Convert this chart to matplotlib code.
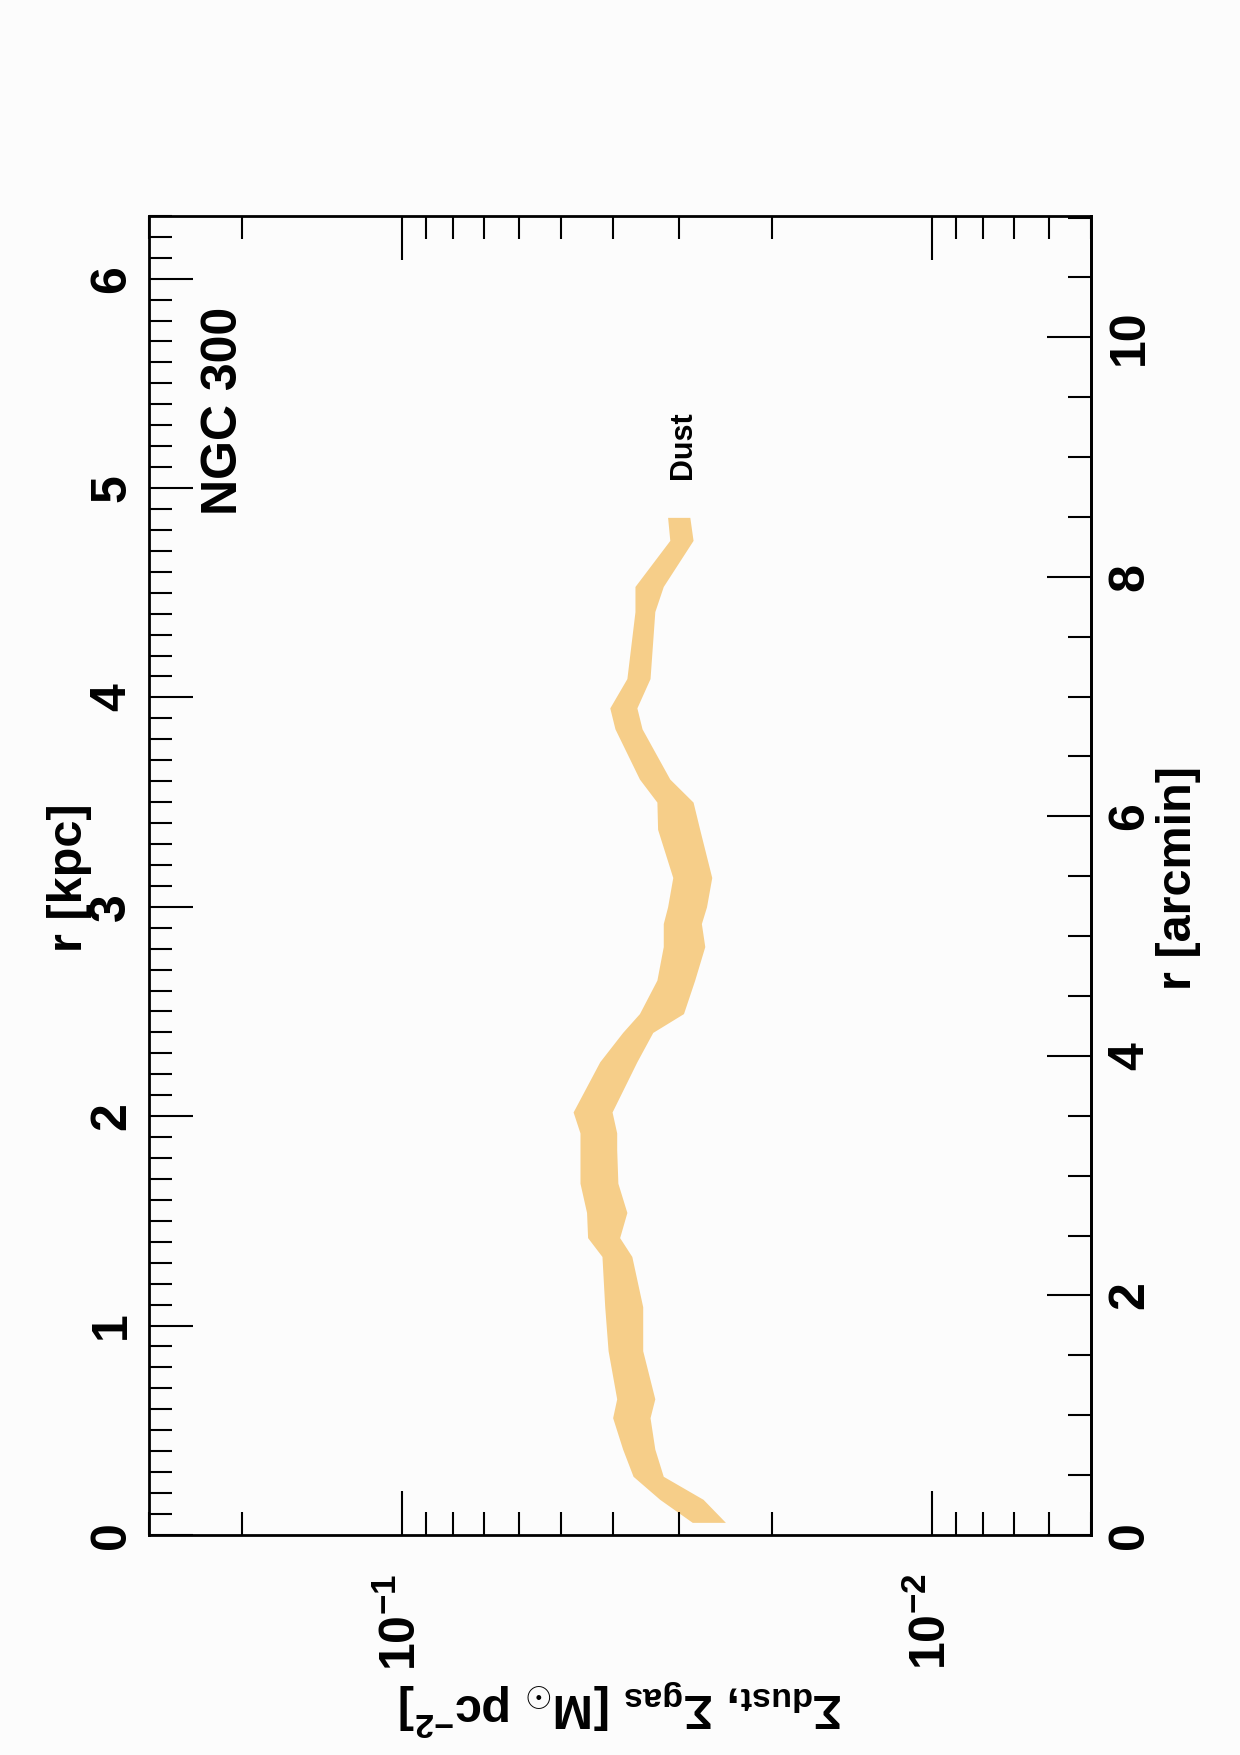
import matplotlib
matplotlib.use("Agg")
import matplotlib.pyplot as plt
import numpy as np
from matplotlib.ticker import LogLocator, MultipleLocator, NullFormatter

# radial profile of the dust surface density band (NGC 300)
R_KPC = [0.06, 0.17, 0.28, 0.41, 0.56, 0.65, 0.88, 1.09, 1.33, 1.42, 1.54,
         1.68, 1.84, 1.92, 2.02, 2.26, 2.40, 2.49, 2.65, 2.81, 2.92, 3.00,
         3.14, 3.37, 3.50, 3.61, 3.85, 3.95, 4.09, 4.41, 4.53, 4.75, 4.86]
SIGMA_HI = [0.0283, 0.0326, 0.0366, 0.0383, 0.0400, 0.0393, 0.0408, 0.0414,
            0.0419, 0.0446, 0.0448, 0.0461, 0.0461, 0.0461, 0.0475, 0.0423,
            0.0383, 0.0356, 0.0330, 0.0321, 0.0321, 0.0315, 0.0308, 0.0329,
            0.0330, 0.0356, 0.0396, 0.0405, 0.0376, 0.0363, 0.0363, 0.0312,
            0.0315]
SIGMA_LO = [0.0245, 0.0270, 0.0321, 0.0333, 0.0340, 0.0333, 0.0351, 0.0351,
            0.0368, 0.0388, 0.0376, 0.0391, 0.0393, 0.0393, 0.0401, 0.0360,
            0.0336, 0.0294, 0.0280, 0.0268, 0.0272, 0.0266, 0.0260, 0.0274,
            0.0282, 0.0312, 0.0352, 0.0360, 0.0340, 0.0333, 0.0321, 0.0282,
            0.0286]

KPC_PER_ARCMIN = 0.572
GALAXY = "NGC 300"
SERIES = "Dust"

PAGE = "#fcfcfc"
BAND = "#f6ce89"

plt.rcParams["font.family"] = ["Liberation Sans", "DejaVu Sans"]
plt.rcParams["font.weight"] = "bold"
plt.rcParams["mathtext.fontset"] = "custom"
plt.rcParams["mathtext.rm"] = "Liberation Sans:bold"
plt.rcParams["mathtext.bf"] = "Liberation Sans:bold"
plt.rcParams["mathtext.it"] = "Liberation Sans:bold"
plt.rcParams["mathtext.default"] = "bf"

MAJ_LEN, MIN_LEN, TICK_W = 31.7, 16.5, 1.5

fig = plt.figure(figsize=(12.4, 17.55), dpi=100, facecolor=PAGE)
ax = fig.add_axes([0.1202, 0.1254, 0.7597, 0.7516])
ax.set_facecolor(PAGE)

ax.fill_betweenx(R_KPC, SIGMA_LO, SIGMA_HI, color=BAND, lw=0)

ax.set_xscale("log")
ax.set_xlim(0.3, 0.005)
ax.set_ylim(0, 6.3)

ax.xaxis.set_major_locator(LogLocator(base=10))
ax.xaxis.set_minor_locator(LogLocator(base=10, subs=np.arange(2, 10)))
ax.xaxis.set_minor_formatter(NullFormatter())
ax.yaxis.set_major_locator(MultipleLocator(1))
ax.yaxis.set_minor_locator(MultipleLocator(0.1))

ax.tick_params(which="major", direction="in", length=MAJ_LEN, width=TICK_W,
               labelsize=36, top=True, right=False)
ax.tick_params(which="minor", direction="in", length=MIN_LEN, width=TICK_W,
               top=True, right=False)
ax.tick_params(axis="x", labelrotation=90, pad=28)
ax.tick_params(axis="y", labelrotation=90, pad=10)
for sp in ax.spines.values():
    sp.set_linewidth(2)

sec = ax.secondary_yaxis("right", functions=(lambda r: r / KPC_PER_ARCMIN,
                                             lambda a: a * KPC_PER_ARCMIN))
sec.yaxis.set_major_locator(MultipleLocator(2))
sec.yaxis.set_minor_locator(MultipleLocator(0.5))
sec.tick_params(which="major", direction="in", length=MAJ_LEN, width=TICK_W,
                labelsize=36, labelrotation=90, pad=11.5)
sec.tick_params(which="minor", direction="in", length=MIN_LEN, width=TICK_W)
sec.spines["right"].set_linewidth(2)

ax.set_ylabel("r [kpc]", fontsize=35, fontweight="bold", ha="center", va="center")
ax.yaxis.set_label_coords(-0.0845, 0.498)
sec.set_ylabel("r [arcmin]", fontsize=35, fontweight="bold", rotation=90,
               ha="center", va="center")
sec.yaxis.set_label_coords(1.0924, 0.498, transform=ax.transAxes)
ax.set_xlabel(r"$\Sigma_{\rm dust}$, $\Sigma_{\rm gas}$ [M$_{\odot}$ pc$^{-2}$]",
              fontsize=35, fontweight="bold", rotation=180, ha="center", va="center")
ax.xaxis.set_label_coords(0.501, -0.131)

ax.text(0.0796, 0.852, GALAXY, transform=ax.transAxes, rotation=90,
        ha="center", va="center", fontsize=36, fontweight="bold")
ax.text(0.567, 0.826, SERIES, transform=ax.transAxes, rotation=90,
        ha="center", va="center", fontsize=22, fontweight="bold")

fig.canvas.draw()
for lbl in ax.get_yticklabels() + sec.get_yticklabels():
    lbl.set_verticalalignment("center")

fig.savefig("out.png", dpi=100, facecolor=PAGE)
